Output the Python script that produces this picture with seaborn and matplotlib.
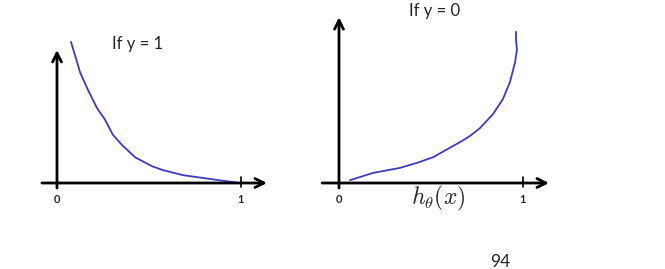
import matplotlib
matplotlib.use("Agg")
import matplotlib.pyplot as plt
import seaborn as sns
import pandas as pd

# ---- data ----
left_h = [0.076, 0.109, 0.125, 0.163, 0.217, 0.261, 0.304, 0.353, 0.424,
          0.516, 0.576, 0.685, 0.793, 0.902, 0.995]
left_cost = [2.52, 2.16, 1.98, 1.70, 1.34, 1.13, 0.86, 0.68, 0.46,
             0.30, 0.23, 0.14, 0.09, 0.04, 0.0]
right_h = [0.060, 0.185, 0.332, 0.424, 0.511, 0.603, 0.658, 0.712, 0.766,
           0.837, 0.891, 0.929, 0.957, 0.967, 0.962, 0.962]
right_cost = [0.05, 0.18, 0.27, 0.36, 0.46, 0.63, 0.73, 0.84, 0.98,
              1.23, 1.50, 1.80, 2.16, 2.38, 2.55, 2.70]
panel_titles = ["If y = 1", "If y = 0"]
tick_labels = ["0", "1"]
x_label = r"$h_\theta(x)$"
page_number = "94"

sns.set_theme(style="white")
plt.rcParams["font.family"] = ["Lato", "DejaVu Sans"]
plt.rcParams["mathtext.fontset"] = "cm"

W, H = 665, 269
fig = plt.figure(figsize=(W / 100, H / 100), dpi=100)

PX_PER_X = 184.0
PX_PER_Y = 56.0
AXIS_Y_PX = 183.0

def make_ax(left_px, width_px, zero_px):
    ax = fig.add_axes([left_px / W, 0, width_px / W, 1])
    ax.set_xlim(-(zero_px - left_px) / PX_PER_X, (left_px + width_px - zero_px) / PX_PER_X)
    ax.set_ylim(-(H - AXIS_Y_PX) / PX_PER_Y, AXIS_Y_PX / PX_PER_Y)
    ax.axis("off")
    return ax

ax1 = make_ax(0, 300, 57)
ax2 = make_ax(300, 300, 339)

curve_color = "#3b3bc4"
df1 = pd.DataFrame({"h": left_h, "cost": left_cost})
df2 = pd.DataFrame({"h": right_h, "cost": right_cost})
sns.lineplot(data=df1, x="h", y="cost", ax=ax1, sort=False, estimator=None,
             color=curve_color, lw=1.3)
sns.lineplot(data=df2, x="h", y="cost", ax=ax2, sort=False, estimator=None,
             color=curve_color, lw=1.3)
for ax in (ax1, ax2):
    ax.axis("off")
    for ln in ax.lines:
        ln.set_solid_joinstyle("round")
        ln.set_solid_capstyle("round")

arrow = dict(arrowstyle="->", lw=2.0, color="black", mutation_scale=16,
             shrinkA=0, shrinkB=0)

# left panel axes
ax1.annotate("", xy=(1.141, 0), xytext=(-0.082, 0), arrowprops=arrow)
ax1.annotate("", xy=(0, 2.375), xytext=(0, -0.09), arrowprops=arrow)
# right panel axes
ax2.annotate("", xy=(1.141, 0), xytext=(-0.092, 0), arrowprops=arrow)
ax2.annotate("", xy=(0, 2.96), xytext=(0, -0.09), arrowprops=arrow)

for ax in (ax1, ax2):
    ax.plot([1, 1], [-0.08, 0.1], color="black", lw=1.2)
    ax.text(0, -0.3, tick_labels[0], ha="center", va="center", fontsize=8,
            fontweight="bold")
    ax.text(1, -0.3, tick_labels[1], ha="center", va="center", fontsize=8,
            fontweight="bold")

ax1.text(0.44, 2.48, panel_titles[0], ha="center", va="center", fontsize=12)
ax2.text(0.522, 3.07, panel_titles[1], ha="center", va="center", fontsize=12)
ax2.text(0.54, -0.28, x_label, ha="center", va="center", fontsize=17)

fig.text(500 / W, 1 - 262 / H, page_number, ha="center", va="center", fontsize=12.5)

fig.savefig("out.png", dpi=100, facecolor="white")
